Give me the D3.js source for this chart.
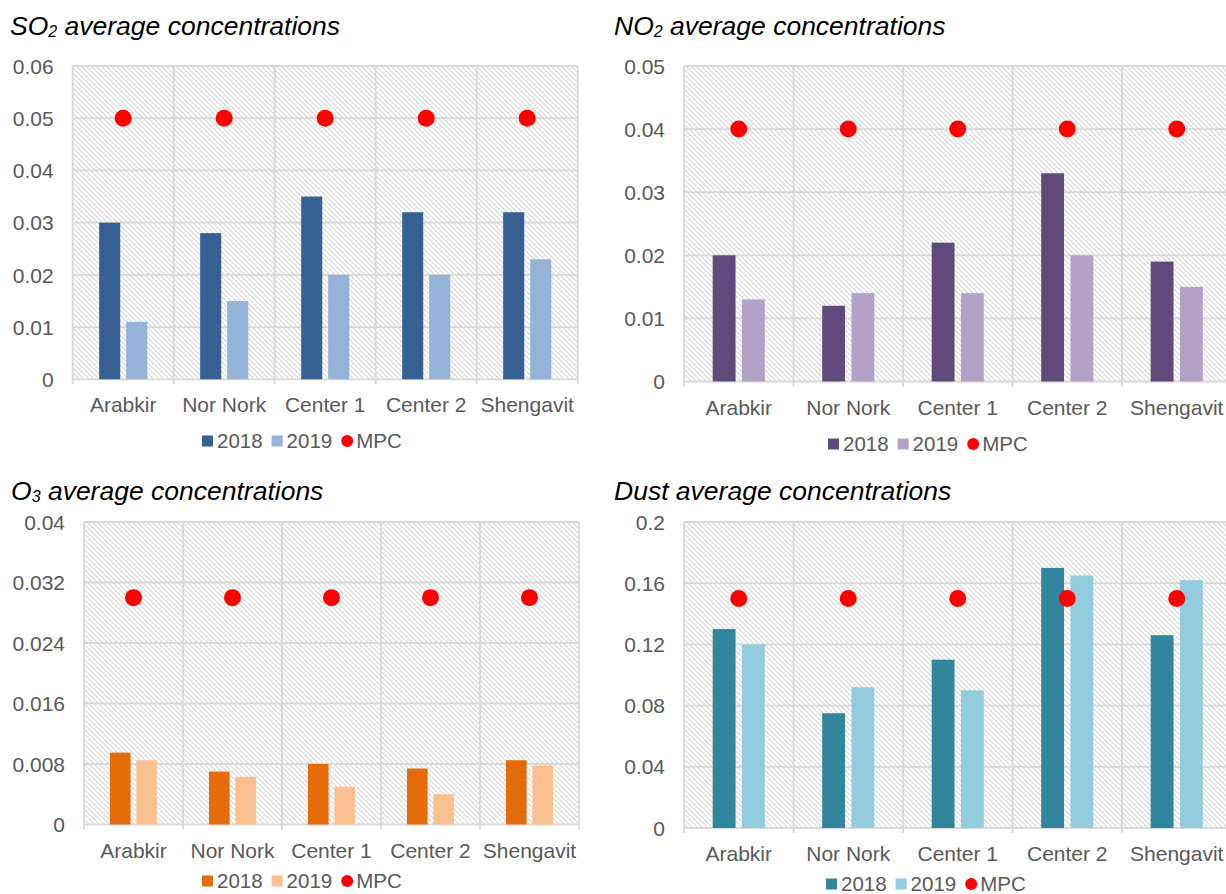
<!DOCTYPE html>
<html><head><meta charset="utf-8">
<script src="https://cdn.jsdelivr.net/npm/d3@7"></script>
<style>
html,body{margin:0;padding:0;background:#fff;}
svg{display:block;font-family:"Liberation Sans",Arial,sans-serif;}
</style></head><body>
<svg id="chart" width="1226" height="894"></svg>
<script>
// Monitoring districts and yearly series
const districts = ["Arabkir", "Nor Nork", "Center 1", "Center 2", "Shengavit"];
const seriesNames = ["2018", "2019"];

// SO2 (mg/m3)
const so2_2018 = [0.030, 0.028, 0.035, 0.032, 0.032];
const so2_2019 = [0.011, 0.015, 0.020, 0.020, 0.023];
const so2_mpc = [0.05, 0.05, 0.05, 0.05, 0.05];
const so2_ticks = [0, 0.01, 0.02, 0.03, 0.04, 0.05, 0.06];
const so2_tickLabels = ["0", "0.01", "0.02", "0.03", "0.04", "0.05", "0.06"];

// NO2
const no2_2018 = [0.020, 0.012, 0.022, 0.033, 0.019];
const no2_2019 = [0.013, 0.014, 0.014, 0.020, 0.015];
const no2_mpc = [0.04, 0.04, 0.04, 0.04, 0.04];
const no2_ticks = [0, 0.01, 0.02, 0.03, 0.04, 0.05];
const no2_tickLabels = ["0", "0.01", "0.02", "0.03", "0.04", "0.05"];

// O3
const o3_2018 = [0.0095, 0.0070, 0.0080, 0.0074, 0.0085];
const o3_2019 = [0.0085, 0.0063, 0.0050, 0.0040, 0.0078];
const o3_mpc = [0.03, 0.03, 0.03, 0.03, 0.03];
const o3_ticks = [0, 0.008, 0.016, 0.024, 0.032, 0.04];
const o3_tickLabels = ["0", "0.008", "0.016", "0.024", "0.032", "0.04"];

// Dust
const dust_2018 = [0.130, 0.075, 0.110, 0.170, 0.126];
const dust_2019 = [0.120, 0.092, 0.090, 0.165, 0.162];
const dust_mpc = [0.15, 0.15, 0.15, 0.15, 0.15];
const dust_ticks = [0, 0.04, 0.08, 0.12, 0.16, 0.2];
const dust_tickLabels = ["0", "0.04", "0.08", "0.12", "0.16", "0.2"];

const FONT = "'Liberation Sans', Arial, sans-serif";
const GRID = "#d9d9d9";
const TEXT = "#595959";

const panels = [
  { title: ["SO", "2", " average concentrations"], values: [so2_2018, so2_2019], mpc: so2_mpc,
    ticks: so2_ticks, tickLabels: so2_tickLabels, colors: ["#366092", "#95b3d7"],
    left: 72.7, catW: 101, top: 66, bottom: 379.3, titleX: 10, titleY: 35, legendX: 202, legendY: 441 },
  { title: ["NO", "2", " average concentrations"], values: [no2_2018, no2_2019], mpc: no2_mpc,
    ticks: no2_ticks, tickLabels: no2_tickLabels, colors: ["#604a7b", "#b3a2c7"],
    left: 684, catW: 109.5, top: 66, bottom: 381.5, titleX: 614, titleY: 35, legendX: 828, legendY: 444 },
  { title: ["O", "3", " average concentrations"], values: [o3_2018, o3_2019], mpc: o3_mpc,
    ticks: o3_ticks, tickLabels: o3_tickLabels, colors: ["#e46c0a", "#fac090"],
    left: 84, catW: 99, top: 522, bottom: 824.5, titleX: 11, titleY: 500, legendX: 202, legendY: 881 },
  { title: ["Dust average concentrations", "", ""], values: [dust_2018, dust_2019], mpc: dust_mpc,
    ticks: dust_ticks, tickLabels: dust_tickLabels, colors: ["#31859c", "#93cddd"],
    left: 684, catW: 109.5, top: 522, bottom: 828, titleX: 614, titleY: 500, legendX: 826, legendY: 884 }
];

const svg = d3.select("#chart");
const defs = svg.append("defs");
const pat = defs.append("pattern").attr("id", "hatch")
  .attr("patternUnits", "userSpaceOnUse").attr("width", 5).attr("height", 5);
pat.append("rect").attr("width", 5).attr("height", 5).attr("fill", "#fff");
pat.append("path").attr("d", "M0,0L5,5M-1,4L1,6M4,-1L6,1")
  .attr("stroke", "#dcdcdc").attr("stroke-width", 1.25);

panels.forEach(p => {
  const g = svg.append("g");
  const right = p.left + p.catW * districts.length;
  const x = d3.scaleBand().domain(districts).range([p.left, right]).padding(0);
  const xs = d3.scaleBand().domain(seriesNames).range([0, x.bandwidth()])
    .paddingInner(0.22).paddingOuter(0.98);
  const y = d3.scaleLinear().domain([0, d3.max(p.ticks)]).range([p.bottom, p.top]);

  // hatched plot area
  g.append("rect").attr("x", p.left).attr("y", p.top)
    .attr("width", right - p.left).attr("height", p.bottom - p.top)
    .attr("fill", "url(#hatch)");

  // horizontal gridlines
  g.append("g").selectAll("line").data(p.ticks).join("line")
    .attr("x1", p.left).attr("x2", right)
    .attr("y1", d => y(d)).attr("y2", d => y(d))
    .attr("stroke", GRID).attr("stroke-width", 1.8);

  // vertical gridlines with tick marks below the axis
  const bounds = districts.map(d => x(d)).concat([right]);
  g.append("g").selectAll("line").data(bounds).join("line")
    .attr("x1", d => d).attr("x2", d => d)
    .attr("y1", p.top).attr("y2", p.bottom + 5)
    .attr("stroke", GRID).attr("stroke-width", 1.8);

  // bars
  seriesNames.forEach((s, i) => {
    g.append("g").selectAll("rect").data(p.values[i]).join("rect")
      .attr("x", (v, j) => x(districts[j]) + xs(s))
      .attr("y", v => y(v))
      .attr("width", xs.bandwidth())
      .attr("height", v => y(0) - y(v))
      .attr("fill", p.colors[i]);
  });

  // MPC markers
  g.append("g").selectAll("circle").data(p.mpc).join("circle")
    .attr("cx", (v, j) => x(districts[j]) + x.bandwidth() / 2)
    .attr("cy", v => y(v))
    .attr("r", 8.5)
    .attr("fill", "#ff0000");

  // y axis labels
  const ya = d3.axisLeft(y).tickValues(p.ticks)
    .tickFormat((d, i) => p.tickLabels[i]).tickSize(0).tickPadding(19);
  const yg = g.append("g").attr("transform", `translate(${p.left},0)`).call(ya);
  yg.select(".domain").remove();
  yg.attr("font-family", FONT).attr("font-size", 21);
  yg.selectAll("text").attr("fill", TEXT).attr("dy", "0.34em");

  // x axis labels
  const xa = d3.axisBottom(x).tickSize(0);
  const xg = g.append("g").attr("transform", `translate(0,${p.bottom})`).call(xa);
  xg.select(".domain").remove();
  xg.attr("font-family", FONT).attr("font-size", 21);
  xg.selectAll("text").attr("fill", TEXT).attr("y", 33).attr("dy", null);

  // title
  const t = g.append("text").attr("x", p.titleX).attr("y", p.titleY)
    .attr("font-family", FONT).attr("font-size", 26.5).attr("font-style", "italic")
    .attr("fill", "#000");
  t.append("tspan").text(p.title[0]);
  if (p.title[1]) {
    t.append("tspan").attr("font-size", 16).attr("dy", 2).text(p.title[1]);
    t.append("tspan").attr("dy", -2).text(p.title[2]);
  }

  // legend
  const lg = g.append("g").attr("transform", `translate(${p.legendX},${p.legendY})`)
    .attr("font-family", FONT).attr("font-size", 20.5);
  let cx = 0;
  seriesNames.forEach((s, i) => {
    lg.append("rect").attr("x", cx).attr("y", -5.5).attr("width", 11).attr("height", 11)
      .attr("fill", p.colors[i]);
    const tx = lg.append("text").attr("x", cx + 15).attr("y", 0).attr("dy", "0.35em")
      .attr("fill", TEXT).text(s);
    cx += 15 + tx.node().getComputedTextLength() + 9;
  });
  lg.append("circle").attr("cx", cx + 6).attr("cy", 0).attr("r", 6).attr("fill", "#ff0000");
  lg.append("text").attr("x", cx + 15).attr("y", 0).attr("dy", "0.35em")
    .attr("fill", TEXT).text("MPC");
});
</script>
</body></html>
